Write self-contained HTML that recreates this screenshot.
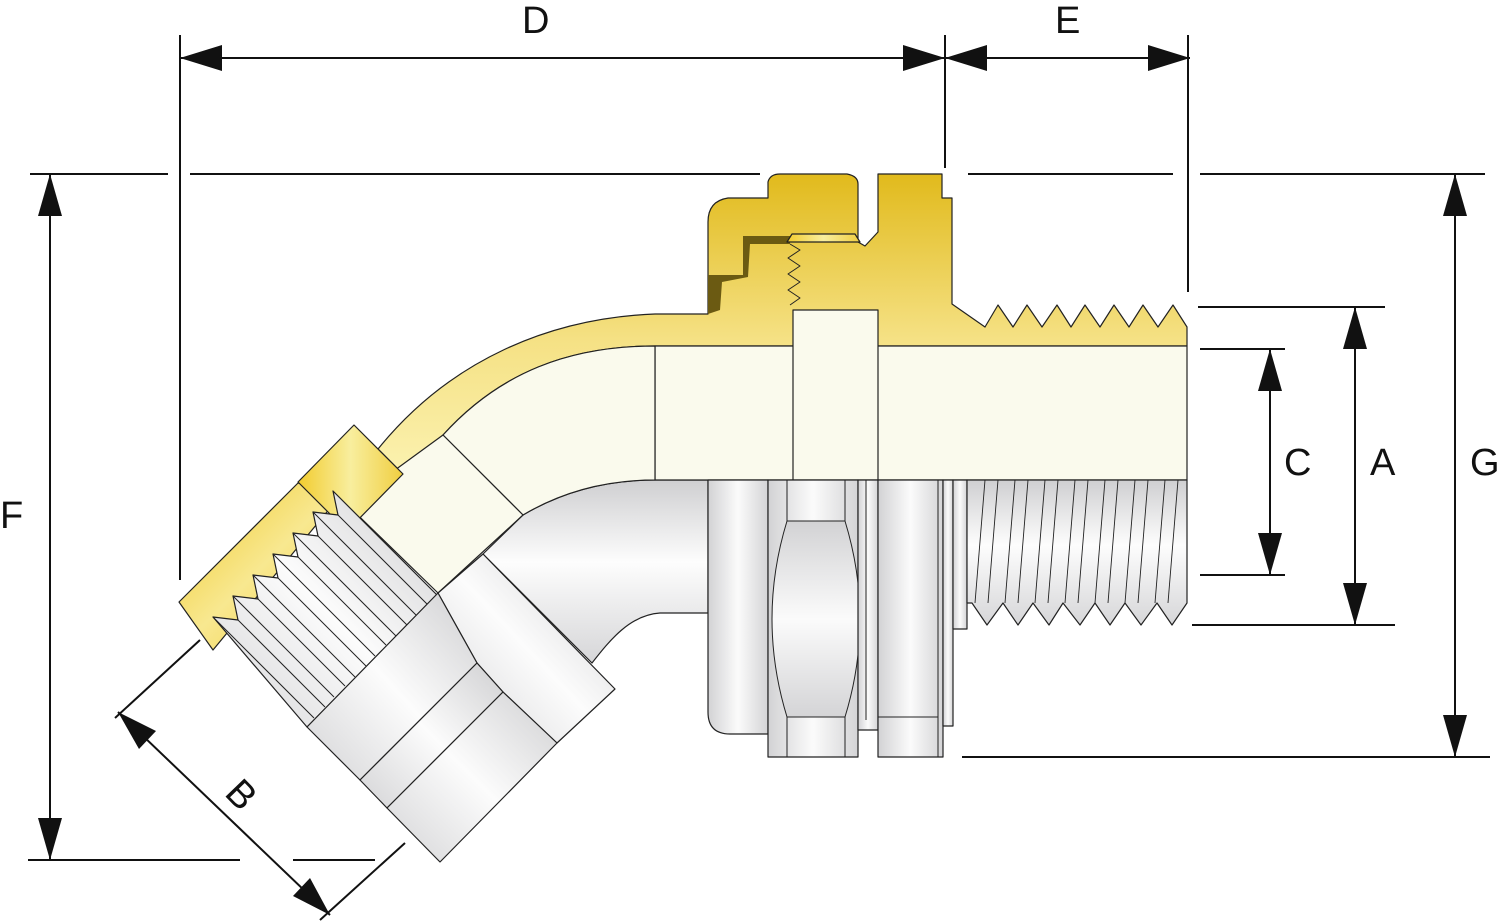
<!DOCTYPE html>
<html><head><meta charset="utf-8"><style>
html,body{margin:0;padding:0;background:#fff;}
svg{display:block;}
text{font-family:"Liberation Sans Narrow","Liberation Sans",sans-serif;font-size:38px;fill:#111;}
</style></head><body>
<svg width="1500" height="922" viewBox="0 0 1500 922" xmlns="http://www.w3.org/2000/svg">
<defs>
<linearGradient id="gold" x1="0" y1="0" x2="0" y2="1">
<stop offset="0" stop-color="#e1ba1c"/><stop offset="0.55" stop-color="#f5e184"/><stop offset="1" stop-color="#fbf2b0"/>
</linearGradient>
<linearGradient id="goldL" x1="0" y1="0" x2="1" y2="0">
<stop offset="0" stop-color="#f2cc2e"/><stop offset="0.5" stop-color="#f8ee9e"/><stop offset="1" stop-color="#f0ce40"/>
</linearGradient>
<linearGradient id="goldD" x1="0" y1="0" x2="1" y2="1">
<stop offset="0" stop-color="#f0c828"/><stop offset="0.5" stop-color="#f8e890"/><stop offset="1" stop-color="#f2cc34"/>
</linearGradient>
<linearGradient id="silv" x1="0" y1="0" x2="0" y2="1">
<stop offset="0" stop-color="#cfcfd1"/><stop offset="0.45" stop-color="#fdfdfd"/><stop offset="1" stop-color="#d6d6d8"/>
</linearGradient>
<linearGradient id="silvH" x1="0" y1="0" x2="1" y2="0">
<stop offset="0" stop-color="#d2d2d4"/><stop offset="0.5" stop-color="#fbfbfb"/><stop offset="1" stop-color="#d4d4d6"/>
</linearGradient>
<linearGradient id="silvV" x1="0" y1="0" x2="0" y2="1">
<stop offset="0" stop-color="#d2d2d4"/><stop offset="0.5" stop-color="#fbfbfb"/><stop offset="1" stop-color="#d4d4d6"/>
</linearGradient>
<linearGradient id="silvD" x1="1" y1="0" x2="0" y2="1">
<stop offset="0" stop-color="#cfcfd1"/><stop offset="0.5" stop-color="#fcfcfc"/><stop offset="1" stop-color="#d4d4d6"/>
</linearGradient>
</defs>

<g stroke="#111" stroke-width="2" fill="none">
<line x1="180" y1="35" x2="180" y2="580"/>
<line x1="945" y1="35" x2="945" y2="168"/>
<line x1="1188" y1="35" x2="1188" y2="292"/>
<line x1="30" y1="174" x2="168" y2="174"/>
<line x1="190" y1="174" x2="760" y2="174"/>
<line x1="968" y1="174" x2="1173" y2="174"/>
<line x1="1200" y1="174" x2="1485" y2="174"/>
<line x1="1198" y1="307" x2="1385" y2="307"/>
<line x1="1200" y1="349" x2="1285" y2="349"/>
<line x1="1200" y1="575" x2="1285" y2="575"/>
<line x1="1192" y1="625" x2="1395" y2="625"/>
<line x1="962" y1="757" x2="1490" y2="757"/>
<line x1="28" y1="860" x2="240" y2="860"/>
<line x1="293" y1="860" x2="375" y2="860"/>
<line x1="200" y1="640" x2="115" y2="718"/>
<line x1="405" y1="843" x2="320" y2="920"/>
<line x1="180" y1="58" x2="945" y2="58"/>
<line x1="945" y1="58" x2="1190" y2="58"/>
<line x1="50" y1="174" x2="50" y2="860"/>
<line x1="1455" y1="174" x2="1455" y2="757"/>
<line x1="1355" y1="307" x2="1355" y2="625"/>
<line x1="1270" y1="349" x2="1270" y2="575"/>
<line x1="118" y1="712" x2="330" y2="915"/>
</g>
<g fill="#111">
<polygon points="180,58 222,45 222,71"/><polygon points="945,58 903,45 903,71"/>
<polygon points="945,58 987,45 987,71"/><polygon points="1190,58 1148,45 1148,71"/>
<polygon points="50,174 38,216 62,216"/><polygon points="50,860 38,818 62,818"/>
<polygon points="1455,174 1443,216 1467,216"/><polygon points="1455,757 1443,715 1467,715"/>
<polygon points="1355,307 1343,349 1367,349"/><polygon points="1355,625 1343,583 1367,583"/>
<polygon points="1270,349 1258,391 1282,391"/><polygon points="1270,575 1258,533 1282,533"/>
<polygon points="118,712 139,749 156,731"/><polygon points="330,915 293,896 310,878"/>
</g>
<text x="522" y="33">D</text>
<text x="1055" y="33">E</text>
<text x="0" y="528">F</text>
<text x="1470" y="475">G</text>
<text x="1370" y="475">A</text>
<text x="1284" y="475">C</text>
<text transform="translate(232,786) rotate(46)" x="0" y="12">B</text>

<g stroke="#222" stroke-width="1.2" stroke-linejoin="round">
<path d="M483,554 L523,515 C565,490 610,480 655,480 L708,480 L708,613 L660,613 C630,615 610,640 592,663 Z" fill="url(#silv)"/>
<path d="M378,449 C450,360 550,318 655,314 L708,314 L708,222 Q708,201 728,198 L768,198 L768,182 Q770,174 780,174 L847,174 Q858,176 858,184 L858,242 L865,246 L878,232 L878,174 L942,174 L942,198 L952,198 L952,304 L985,327 L998,305 L1013,327 L1027,305 L1042,327 L1057,305 L1071,327 L1085,305 L1100,327 L1114,305 L1129,327 L1143,305 L1158,327 L1173,305 L1187,327 L1187,346 L655,346 C570,346 500,372 443,435 L403,474 Z" fill="url(#gold)"/>
<path d="M708,275 L743,275 L743,236 L790,236 L790,244 L750,244 L748,277 L722,282 L720,310 L708,314 Z" fill="#6b5a12" stroke="none"/>
<path d="M787,242 L792,234 L855,234 L860,242 Z" fill="url(#goldL)"/>
<path d="M790,244 L800,250 L788,258 L800,266 L788,274 L800,282 L788,290 L800,298 L790,305" fill="none" stroke-width="1"/>
<rect x="655" y="346" width="532" height="134" fill="#fafaed"/>
<rect x="793" y="310" width="85" height="170" fill="#fafaed"/>
<path d="M443,435 C500,372 570,346 655,346 L655,480 C610,480 565,490 523,515 Z" fill="#fafaed"/>
<polygon points="395,470 443,435 523,515 438,593 333,491" fill="#fafaed"/>
<polygon points="179,602 298,483 345,490 213,650" fill="url(#goldD)"/>
<polygon points="298,482 354,425 403,474 347,531" fill="url(#goldL)"/>
<polygon points="213,617 238,620 233,596 258,599 253,575 278,578 273,554 298,557 293,533 318,536 313,512 338,515 333,491 437,595 307,727" fill="url(#silvD)"/>
<g fill="none" stroke-width="1">
<line x1="213" y1="617" x2="314" y2="718"/><line x1="238" y1="620" x2="325" y2="707"/>
<line x1="233" y1="596" x2="334" y2="697"/><line x1="258" y1="599" x2="345" y2="686"/>
<line x1="253" y1="575" x2="355" y2="677"/><line x1="278" y1="578" x2="366" y2="666"/>
<line x1="273" y1="554" x2="375" y2="656"/><line x1="298" y1="557" x2="386" y2="645"/>
<line x1="293" y1="533" x2="396" y2="636"/><line x1="318" y1="536" x2="407" y2="625"/>
<line x1="313" y1="512" x2="416" y2="615"/><line x1="338" y1="515" x2="427" y2="604"/>
</g>
<polygon points="438,593 483,554 615,689 557,743 503,692 477,663" fill="url(#silvD)"/>
<polygon points="307,727 438,593 477,663 360,780" fill="url(#silvD)"/>
<polygon points="360,780 477,663 503,692 387,808" fill="url(#silvD)"/>
<polygon points="387,808 503,692 557,743 440,862" fill="url(#silvD)"/>
<path d="M708,480 L768,480 L768,734 L730,734 Q708,734 708,712 Z" fill="url(#silvH)"/>
<rect x="768" y="480" width="90" height="277" fill="url(#silvH)"/>
<path d="M787,521 Q757,619 787,717 L845,717 Q875,619 845,521 Z" fill="url(#silvV)" stroke-width="1"/>
<path d="M787,480 L787,521 M787,717 L787,757 M845,480 L845,521 M845,717 L845,757" fill="none" stroke-width="1"/>
<rect x="858" y="480" width="20" height="250" fill="url(#silvH)"/>
<line x1="866" y1="480" x2="866" y2="720" stroke-width="1"/>
<rect x="878" y="480" width="65" height="277" fill="url(#silvH)"/>
<line x1="878" y1="717" x2="938" y2="717" stroke-width="1"/>
<line x1="938" y1="480" x2="938" y2="757" stroke-width="1"/>
<rect x="943" y="480" width="10" height="246" fill="url(#silvH)"/>
<rect x="953" y="480" width="14" height="149" fill="url(#silvH)"/>
<path d="M967,480 L1187,480 L1187,603 L1172,625 L1157,603 L1141,625 L1125,603 L1110,625 L1095,603 L1080,625 L1063,603 L1049,625 L1033,603 L1018,625 L1003,603 L987,625 L972,603 L967,603 Z" fill="url(#silv)"/>
<g fill="none" stroke-width="0.9">
<line x1="985" y1="480" x2="975" y2="603"/><line x1="998" y1="480" x2="988" y2="603"/>
<line x1="1015" y1="480" x2="1005" y2="603"/><line x1="1028" y1="480" x2="1018" y2="603"/>
<line x1="1045" y1="480" x2="1035" y2="603"/><line x1="1058" y1="480" x2="1048" y2="603"/>
<line x1="1075" y1="480" x2="1065" y2="603"/><line x1="1088" y1="480" x2="1078" y2="603"/>
<line x1="1105" y1="480" x2="1095" y2="603"/><line x1="1118" y1="480" x2="1108" y2="603"/>
<line x1="1135" y1="480" x2="1125" y2="603"/><line x1="1148" y1="480" x2="1138" y2="603"/>
<line x1="1165" y1="480" x2="1155" y2="603"/><line x1="1178" y1="480" x2="1168" y2="603"/>
</g>
</g>
</svg>
</body></html>
